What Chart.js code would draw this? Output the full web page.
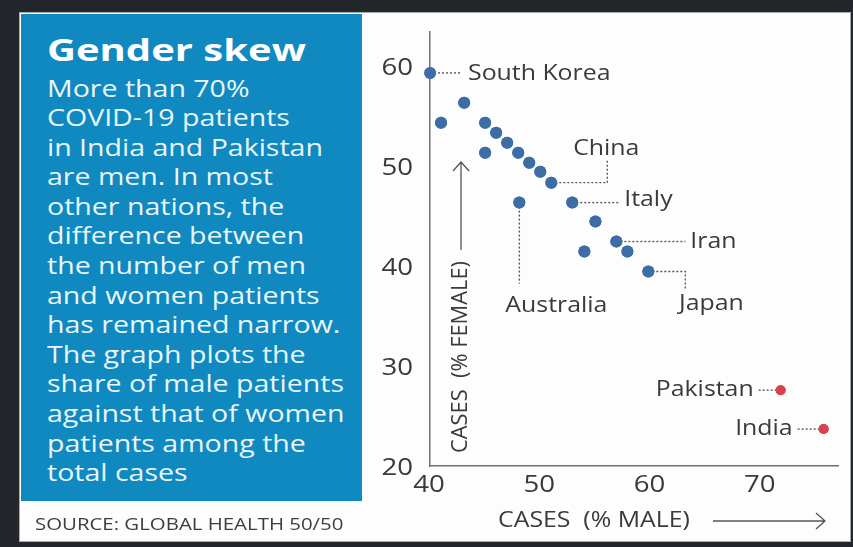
<!DOCTYPE html>
<html>
<head>
<meta charset="utf-8">
<script src="https://cdn.jsdelivr.net/npm/chart.js@4.4.1/dist/chart.umd.min.js"></script>
<style>
  html, body { margin: 0; padding: 0; }
  body { width: 853px; height: 547px; background: #23272c; position: relative; overflow: hidden; font-family: "Open Sans", sans-serif; }
  #frame { position: absolute; left: 19px; top: 12px; width: 830px; height: 528px; background: #fdfdfd; border: 1px solid #a7adb2; }
  #chart { position: absolute; left: 0; top: 0; }
  #panel { position: absolute; left: 21px; top: 14px; width: 341px; height: 487px; background: #0f89bf; color: #eaf5f9; }
  #panel h1 { margin: 0; position: absolute; left: 26px; top: 14.5px; font-size: 31px; line-height: 40px; font-weight: 700; color: #ffffff; white-space: nowrap; transform: scaleX(1.29); transform-origin: left top; }
  #panel p { margin: 0; position: absolute; left: 26px; top: 59.5px; font-size: 23px; line-height: 29.6px; white-space: pre; transform: scaleX(1.24); transform-origin: left top; }
  #source { position: absolute; left: 35px; top: 512px; font-size: 17px; color: #3d3d3d; white-space: nowrap; transform: scaleX(1.2); transform-origin: left top; }
</style>
</head>
<body>
<div id="frame"></div>
<canvas id="chart" width="853" height="547"></canvas>
<div id="panel">
  <h1>Gender skew</h1>
  <p id="blurb"></p>
</div>
<div id="source">SOURCE: GLOBAL HEALTH 50/50</div>
<script>
// Share of cases by sex, per country (percent)
const countries = ['South Korea', '', '', '', '', '', '', '', '', 'China', '', 'Australia', 'Italy', '', 'Iran', '', '', 'Japan'];
const maleShare = [40.0, 41.0, 43.1, 45.0, 46.0, 47.0, 48.0, 49.0, 50.0, 51.0, 45.0, 48.1, 52.9, 55.0, 56.9, 54.0, 57.9, 59.8];
const femaleShare = [59.4, 54.4, 56.4, 54.4, 53.4, 52.4, 51.4, 50.4, 49.5, 48.4, 51.4, 46.4, 46.4, 44.5, 42.5, 41.5, 41.5, 39.5];

const southAsiaCountries = ['Pakistan', 'India'];
const southAsiaMale = [71.8, 75.7];
const southAsiaFemale = [27.6, 23.7];

const xTicks = [40, 50, 60, 70];
const yTicks = [20, 30, 40, 50, 60];

const blurbLines = [
  'More than 70%',
  'COVID-19 patients',
  'in India and Pakistan',
  'are men. In most',
  'other nations, the',
  'difference between',
  'the number of men',
  'and women patients',
  'has remained narrow.',
  'The graph plots the',
  'share of male patients',
  'against that of women',
  'patients among the',
  'total cases'
];
document.getElementById('blurb').textContent = blurbLines.join('\n');

const FONT = '"Open Sans", sans-serif';
const INK = '#3a3a3a';

// Draw text with a horizontal stretch (the type here is set wide)
function wideText(ctx, text, x, y, opts) {
  ctx.save();
  ctx.translate(x, y);
  if (opts.rotate) ctx.rotate(opts.rotate);
  ctx.scale(opts.stretch || 1, 1);
  ctx.font = opts.font;
  ctx.fillStyle = opts.color || INK;
  ctx.textAlign = opts.align || 'left';
  ctx.textBaseline = 'middle';
  ctx.fillText(text, 0, 0);
  ctx.restore();
}

// Where each callout label sits relative to its point (pixels)
const calloutStyle = {
  'South Korea': { path: [[32, 0]], text: [38, 1], align: 'left' },
  'China':       { path: [[56, 0], [56, -22]], text: [55, -34], align: 'center' },
  'Italy':       { path: [[47, 0]], text: [52, -3], align: 'left' },
  'Iran':        { path: [[69, 0]], text: [74, 0], align: 'left' },
  'Japan':       { path: [[37, 0], [37, 19]], text: [63, 32], align: 'center' },
  'Australia':   { path: [[0, 81]], text: [37, 103], align: 'center' },
  'Pakistan':    { path: [[-24, 0]], text: [-27, 0], align: 'right' },
  'India':       { path: [[-27, 0]], text: [-31, 0], align: 'right' }
};

const toPoints = (xs, ys) => xs.map((x, i) => ({ x: x, y: ys[i] }));

const calloutPlugin = {
  id: 'callouts',
  afterDatasetsDraw(chart) {
    const ctx = chart.ctx;
    const names = [countries, southAsiaCountries];
    names.forEach((list, di) => {
      const meta = chart.getDatasetMeta(di);
      list.forEach((name, i) => {
        if (!name) return;
        const s = calloutStyle[name];
        const el = meta.data[i];
        const px = el.x, py = el.y;
        ctx.save();
        ctx.strokeStyle = '#5a5a5a';
        ctx.lineWidth = 1.4;
        ctx.setLineDash([2, 2]);
        ctx.beginPath();
        ctx.moveTo(px, py);
        s.path.forEach(([dx, dy]) => ctx.lineTo(px + dx, py + dy));
        ctx.stroke();
        ctx.restore();
        wideText(ctx, name, px + s.text[0], py + s.text[1], { font: '22px ' + FONT, stretch: 1.13, align: s.align });
      });
      // dots sit above their leader lines
      meta.data.forEach(el => el.draw(ctx, chart.chartArea));
    });
  }
};

const axisTextPlugin = {
  id: 'axisText',
  afterDraw(chart) {
    const ctx = chart.ctx;
    const a = chart.chartArea;
    const xs = chart.scales.x, ys = chart.scales.y;
    const tickFont = '23px ' + FONT;

    xTicks.forEach(v => wideText(ctx, String(v), xs.getPixelForValue(v) - 1, a.bottom + 19, { font: tickFont, stretch: 1.2, align: 'center' }));
    yTicks.forEach(v => wideText(ctx, String(v), a.left - 17, ys.getPixelForValue(v) + 2, { font: tickFont, stretch: 1.2, align: 'right' }));

    ctx.save();
    ctx.strokeStyle = '#555';
    ctx.lineWidth = 1.3;

    // vertical title with an upward arrow
    const yx = a.left + 31;
    wideText(ctx, 'CASES  (% FEMALE)', yx, a.bottom - 13, { font: '21px ' + FONT, stretch: 1.04, rotate: -Math.PI / 2 });
    const arrowBottom = a.bottom - 216, arrowTop = a.bottom - 304;
    ctx.beginPath();
    ctx.moveTo(yx, arrowBottom);
    ctx.lineTo(yx, arrowTop);
    ctx.moveTo(yx - 8, arrowTop + 9);
    ctx.lineTo(yx, arrowTop);
    ctx.lineTo(yx + 8, arrowTop + 9);
    ctx.stroke();

    // horizontal title with a rightward arrow
    const xy = a.bottom + 55;
    wideText(ctx, 'CASES  (% MALE)', a.left + 68, xy, { font: '22px ' + FONT, stretch: 1.13 });
    const arrowLeft = a.left + 283, arrowRight = a.left + 395;
    ctx.beginPath();
    ctx.moveTo(arrowLeft, xy);
    ctx.lineTo(arrowRight, xy);
    ctx.moveTo(arrowRight - 9, xy - 8);
    ctx.lineTo(arrowRight, xy);
    ctx.lineTo(arrowRight - 9, xy + 8);
    ctx.stroke();
    ctx.restore();
  }
};

new Chart(document.getElementById('chart'), {
  type: 'scatter',
  data: {
    datasets: [
      {
        data: toPoints(maleShare, femaleShare),
        backgroundColor: '#3d6da6',
        borderWidth: 0,
        pointRadius: 6
      },
      {
        data: toPoints(southAsiaMale, southAsiaFemale),
        backgroundColor: '#d8434f',
        borderWidth: 0,
        pointRadius: 5
      }
    ]
  },
  options: {
    responsive: false,
    animation: false,
    layout: { padding: { left: 370, right: 15, top: 32, bottom: 51 } },
    plugins: { legend: { display: false }, tooltip: { enabled: false } },
    scales: {
      x: {
        type: 'linear', min: 40, max: 77,
        grid: { display: false, drawTicks: false },
        border: { display: true, color: '#707070', width: 1.5 },
        ticks: { display: false },
        afterBuildTicks: s => { s.ticks = xTicks.map(v => ({ value: v })); },
        afterFit: s => { s.height = 30; }
      },
      y: {
        type: 'linear', min: 20, max: 63.5,
        grid: { display: false, drawTicks: false },
        border: { display: true, color: '#707070', width: 1.5 },
        ticks: { display: false },
        afterBuildTicks: s => { s.ticks = yTicks.map(v => ({ value: v })); },
        afterFit: s => { s.width = 60; }
      }
    }
  },
  plugins: [calloutPlugin, axisTextPlugin]
});
</script>
</body>
</html>
